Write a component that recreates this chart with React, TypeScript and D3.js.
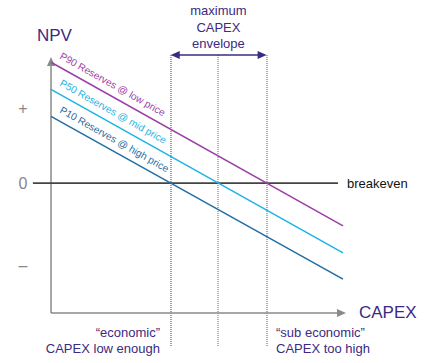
import React from "react";
import * as d3 from "d3";

const W = 427;
const H = 363;

// Schematic data: CAPEX (0–100) vs NPV (arbitrary units)
const seriesNames = ["P90 Reserves @ low price", "P50 Reserves @ mid price", "P10 Reserves @ high price"];
const capexPoints = [0, 100];
const npvP90 = [161, -57];
const npvP50 = [125, -93];
const npvP10 = [89, -128];
const seriesColors = ["#9c3fa6", "#1db4e4", "#1f6ea4"];
const guideColors = ["#b865c4", "#1fbbe8", "#2f86c0"];
const yTickValues = [100, 0, -110];
const yTickLabels = ["+", "0", "–"];
const breakevenRange = [-6.2, 98.3];

export default function App() {
  const x = d3.scaleLinear().domain([0, 100]).range([51, 343]);
  const y = d3.scaleLinear().domain([-173, 168]).range([313, 57]);
  const line = d3
    .line<[number, number]>()
    .x((d) => x(d[0]))
    .y((d) => y(d[1]));

  const allSeries = [npvP90, npvP50, npvP10].map((v, i) => ({
    name: seriesNames[i],
    color: seriesColors[i],
    guide: guideColors[i],
    pts: capexPoints.map((c, j) => [c, v[j]] as [number, number]),
    zero: capexPoints[0] + (v[0] / (v[0] - v[1])) * (capexPoints[1] - capexPoints[0]),
  }));

  const angle = (Math.atan2(y(npvP90[1]) - y(npvP90[0]), x(100) - x(0)) * 180) / Math.PI;
  const indigo = "#3c2a82";
  const font = "Liberation Sans, Arial, sans-serif";
  const axisTop = y(168);
  const axisY = y(-173);
  const axisX = x(0);
  const xTip = 346;
  const guideTop = 55;
  const guideBottom = 347;
  const left = x(allSeries[2].zero);
  const right = x(allSeries[0].zero);
  const mid = x(allSeries[1].zero);

  return (
    <svg width={W} height={H} style={{ position: "absolute", left: 0, top: 0, fontFamily: font }}>
      <rect width={W} height={H} fill="#fff" />
      {/* vertical guides */}
      {allSeries.map((s) => {
        const gx = Math.round(x(s.zero));
        return (
          <line
            key={"g" + s.name}
            x1={gx}
            x2={gx}
            y1={guideTop}
            y2={guideBottom}
            stroke={s.guide}
            strokeWidth={1.6}
            strokeDasharray="1,1"
            opacity={0.85}
          />
        );
      })}
      {/* axes */}
      <line x1={axisX} x2={axisX} y1={axisY} y2={axisTop + 6} stroke="#8a8a8a" strokeWidth={1.5} />
      <path d={`M${axisX},${axisTop} L${axisX - 4},${axisTop + 9} L${axisX + 4},${axisTop + 9} Z`} fill="#8a8a8a" />
      <line x1={axisX} x2={xTip - 6} y1={axisY} y2={axisY} stroke="#8a8a8a" strokeWidth={1.5} />
      <path d={`M${xTip},${axisY} L${xTip - 9},${axisY - 4} L${xTip - 9},${axisY + 4} Z`} fill="#8a8a8a" />
      {/* breakeven */}
      <line
        x1={x(breakevenRange[0])}
        x2={x(breakevenRange[1])}
        y1={y(0)}
        y2={y(0)}
        stroke="#444"
        strokeWidth={1.6}
      />
      <text x={347} y={y(0) + 4.5} fontSize={13} fill="#111">
        breakeven
      </text>
      {/* y ticks */}
      {yTickValues.map((v, i) => (
        <text key={"t" + i} x={23} y={y(v) + 5.5} fontSize={16} fill="#888" textAnchor="middle">
          {yTickLabels[i]}
        </text>
      ))}
      {/* series */}
      {allSeries.map((s) => (
        <path key={s.name} d={line(s.pts) || ""} fill="none" stroke={s.color} strokeWidth={1.5} />
      ))}
      {allSeries.map((s) => {
        const sx = x(0) + 8;
        const sy = y(s.pts[0][1]) + (sx - x(0)) * Math.tan((angle * Math.PI) / 180) - 8.5;
        return (
          <text
            key={"l" + s.name}
            x={sx}
            y={sy}
            fontSize={10.1}
            fill={s.color}
            transform={`rotate(${angle},${sx},${sy})`}
          >
            {s.name}
          </text>
        );
      })}
      {/* envelope arrow */}
      <line x1={left + 6} x2={right - 6} y1={guideTop} y2={guideTop} stroke={indigo} strokeWidth={1.5} />
      <path d={`M${left},${guideTop} L${left + 9},${guideTop - 4} L${left + 9},${guideTop + 4} Z`} fill={indigo} />
      <path d={`M${right},${guideTop} L${right - 9},${guideTop - 4} L${right - 9},${guideTop + 4} Z`} fill={indigo} />
      <text x={mid} textAnchor="middle" fontSize={13} fill={indigo}>
        <tspan x={mid} y={15}>maximum</tspan>
        <tspan x={mid} y={32}>CAPEX</tspan>
        <tspan x={mid} y={48}>envelope</tspan>
      </text>
      {/* axis titles */}
      <text x={37} y={41} fontSize={17} fill={indigo}>
        NPV
      </text>
      <text x={359} y={318} fontSize={17} fill={indigo}>
        CAPEX
      </text>
      {/* bottom notes */}
      <text x={160} textAnchor="end" fontSize={13} fill={indigo}>
        <tspan x={160} y={337}>“economic”</tspan>
        <tspan x={160} y={353}>CAPEX low enough</tspan>
      </text>
      <text x={276} fontSize={13} fill={indigo}>
        <tspan x={276} y={337}>“sub economic”</tspan>
        <tspan x={276} y={353}>CAPEX too high</tspan>
      </text>
    </svg>
  );
}
